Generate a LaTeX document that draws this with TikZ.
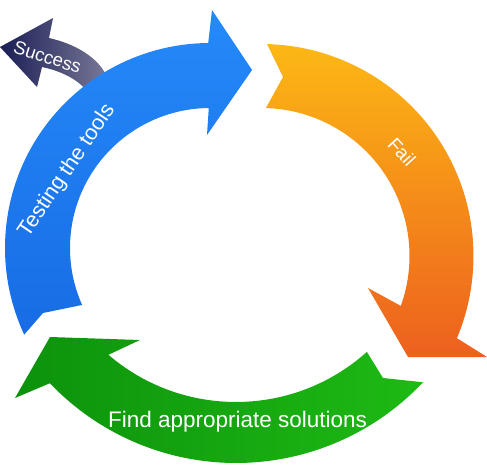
\documentclass[tikz,border=0pt]{standalone}
\usepackage{fontspec}
\setmainfont{Liberation Sans}
\usetikzlibrary{calc}
\definecolor{navyA}{RGB}{26,30,84}
\definecolor{navyB}{RGB}{125,125,155}
\definecolor{blueA}{RGB}{36,138,250}
\definecolor{blueB}{RGB}{24,108,228}
\definecolor{orangeA}{RGB}{252,184,20}
\definecolor{orangeB}{RGB}{237,96,30}
\definecolor{greenA}{RGB}{12,146,12}
\definecolor{greenB}{RGB}{30,186,20}
\tikzset{
  lbl/.style={text=white, inner sep=0pt, font=\fontsize{#1}{#1}\selectfont},
}
\begin{document}
\begin{tikzpicture}[x=1pt,y=-1pt]
\useasboundingbox (0,0) rectangle (487,465);
% Success arrow (behind blue)
\path[left color=navyA, middle color=navyA, right color=navyB]
  (0,47) -- (53,18) -- (49,38)
  .. controls (76,44) and (98,58) .. (106,75)
  -- (113,96) -- (92,100)
  .. controls (86,84) and (66,72) .. (42,67)
  -- (37,87) -- cycle;
% blue arrow
\path[top color=blueA, bottom color=blueB]
  ($(210,248)+(155:205)$) arc[start angle=155,end angle=269.5,radius=205]
  -- (212,10) -- (252,70) -- (207,135)
  -- ($(210,248)+(269.5:140)$) arc[start angle=269.5,end angle=156,radius=140]
  -- (43,313) -- cycle;
% orange arrow
\path[top color=orangeA, bottom color=orangeB]
  ($(261.5,256)+(-88.5:212)$) arc[start angle=-88.5,end angle=22.8,radius=212]
  -- (487,357) -- (408,357) -- (368,288)
  -- ($(261.5,256)+(19.7:148)$) arc[start angle=19.7,end angle=-88.3,radius=148]
  -- (283,77) -- cycle;
% green arrow
\path[left color=greenA, right color=greenB]
  ($(236,206)+(43.3:257)$) arc[start angle=43.3,end angle=136.4,radius=257]
  -- (15,398) -- (50,337) -- (140,340)
  -- ($(236,206)+(130.6:196)$) arc[start angle=130.6,end angle=48.1,radius=196]
  -- (383,378) -- cycle;
% labels
\node[lbl=18.5, rotate=-18] (succ) at (47.5,57) {Success};
\node[lbl=21.5, rotate=56] (test) at (67,171) {Testing the tools};
\node[lbl=19, rotate=-48] (fail) at (402,152) {Fail};
\node[lbl=22.5, anchor=base] (find) at (237.5,427) {Find appropriate solutions};
\end{tikzpicture}
\end{document}
